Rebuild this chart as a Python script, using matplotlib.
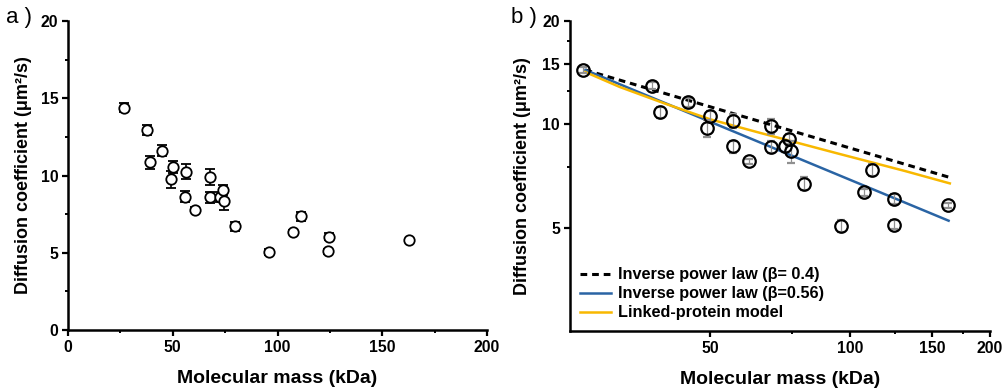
"""Diffusion coefficient vs molecular mass: linear panel (a) and log-log panel (b)."""

import matplotlib
matplotlib.use("Agg")
import matplotlib.pyplot as plt
from matplotlib.ticker import FixedLocator

plt.rcParams["font.family"] = ["Liberation Sans", "DejaVu Sans"]
plt.rcParams["font.weight"] = "bold"
plt.rcParams["axes.labelweight"] = "bold"

# ── data ─────────────────────────────────────────────────────────────────
mass_kda = [26.7, 37.5, 39.0, 44.9, 49.3, 50.1, 56.2, 56.0, 60.8, 67.6, 67.6,
            72.6, 74.0, 74.6, 79.6, 95.8, 107.2, 111.4, 124.1, 124.4, 162.8]
diff_coef = [14.4, 12.95, 10.85, 11.6, 9.75, 10.55, 10.25, 8.62, 7.8, 9.9,
             8.6, 8.62, 9.07, 8.34, 6.72, 5.05, 6.35, 7.35, 5.1, 6.05, 5.82]
diff_err = [0.3, 0.3, 0.4, 0.35, 0.55, 0.4, 0.5, 0.35, 0.15, 0.5, 0.35,
            0.3, 0.3, 0.6, 0.3, 0.2, 0.15, 0.3, 0.15, 0.2, 0.1]

# inverse power law lines: end points (straight on log-log axes)
power_x = [27.0, 163.0]
power_04_y = [14.4, 7.02]
power_056_y = [14.4, 5.24]

# linked-protein model curve, read at a handful of points
linked_x = [27.0, 32.0, 40.0, 50.0, 64.0, 94.0, 131.0, 164.0]
linked_y = [14.2, 12.85, 11.5, 10.35, 9.45, 8.23, 7.32, 6.73]

# ticks
a_xticks = [0, 50, 100, 150, 200]
a_yticks = [0, 5, 10, 15, 20]
b_xticks = [50, 100, 150, 200]
b_yticks = [5, 10, 15, 20]

BLUE = "#2a64a4"
YELLOW = "#f8b800"
TICK_FONT = {"fontweight": "bold", "fontsize": 11.3,
             "family": "Liberation Sans"}


def style_axes(ax, xticks, yticks, ylabelpad):
    ax.set_xticks(xticks, [f"{v:g}" for v in xticks], **TICK_FONT)
    ax.set_yticks(yticks, [f"{v:g}" for v in yticks], **TICK_FONT)
    for side in ("top", "right"):
        ax.spines[side].set_visible(False)
    for side in ("left", "bottom"):
        ax.spines[side].set_linewidth(1.8)
    ax.tick_params(which="major", direction="out", length=4.5, width=1.6,
                   pad=2.5)
    ax.tick_params(which="minor", direction="out", length=2.5, width=1.4)
    ax.set_xlabel("Molecular mass (kDa)", fontsize=14, fontweight="bold",
                  labelpad=11)
    ax.set_ylabel("Diffusion coefficient (μm²/s)", fontsize=13,
                  fontweight="bold", labelpad=ylabelpad)


fig = plt.figure(figsize=(10.05, 3.89), dpi=100)
ax_a = fig.add_axes([0.0677, 0.1517, 0.417, 0.794])
ax_b = fig.add_axes([0.567, 0.149, 0.418, 0.797])

# ── a) linear axes ───────────────────────────────────────────────────────
ax_a.errorbar(mass_kda, diff_coef, yerr=diff_err, fmt="o", ms=7.5,
              mfc="white", mec="black", mew=1.3, ecolor="black",
              elinewidth=1.2, capsize=3.5, capthick=1.2, zorder=3)
ax_a.set_xlim(0, 200)
ax_a.set_ylim(0, 20)
style_axes(ax_a, a_xticks, a_yticks, 6)
ax_a.xaxis.set_minor_locator(FixedLocator([25, 75, 125, 175]))
ax_a.yaxis.set_minor_locator(FixedLocator([2.5, 7.5, 12.5, 17.5]))

# ── b) log-log axes with model curves ────────────────────────────────────
ax_b.set_xscale("log")
ax_b.set_yscale("log")
ax_b.errorbar(mass_kda, diff_coef, yerr=diff_err, fmt="o", ms=9,
              mfc="none", mec="black", mew=1.6, ecolor="#909090",
              elinewidth=0.9, capsize=3, capthick=0.9, zorder=4)
ax_b.plot(power_x, power_04_y, color="black", lw=2.2, ls=(0, (2.2, 1.6)),
          label="Inverse power law (β= 0.4)", zorder=3)
ax_b.plot(power_x, power_056_y, color=BLUE, lw=1.8,
          label="Inverse power law (β=0.56)", zorder=3)
ax_b.plot(linked_x, linked_y, color=YELLOW, lw=1.8,
          label="Linked-protein model", zorder=3)
ax_b.set_xlim(25, 200)
ax_b.set_ylim(2.5, 20)
style_axes(ax_b, b_xticks, b_yticks, 8)
ax_b.set_xticks([75, 125, 175], minor=True)
ax_b.set_yticks([7.5, 12.5, 17.5], minor=True)
ax_b.set_xticklabels([], minor=True)
ax_b.set_yticklabels([], minor=True)
ax_b.legend(loc="lower left", frameon=False, handlelength=1.9,
            handletextpad=0.4, labelspacing=0.25, borderaxespad=0.25,
            prop={"weight": "bold", "size": 11.7})

fig.text(0.006, 0.955, "a )", fontsize=16, fontweight="normal", va="center")
fig.text(0.508, 0.955, "b )", fontsize=16, fontweight="normal", va="center")

fig.savefig("out.png", dpi=100)
